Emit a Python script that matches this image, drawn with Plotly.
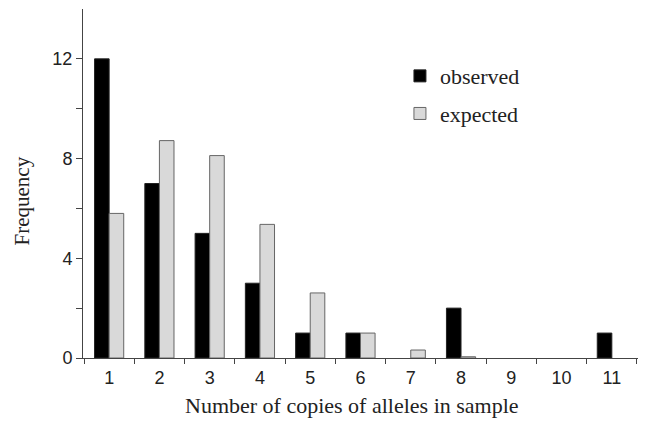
import plotly.graph_objects as go

categories = ["1", "2", "3", "4", "5", "6", "7", "8", "9", "10", "11"]
observed = [12, 7, 5, 3, 1, 1, 0, 2, 0, 0, 1]
expected = [5.8, 8.72, 8.12, 5.36, 2.61, 1.0, 0.32, 0.05, 0, 0, 0]

fig = go.Figure()
fig.add_trace(go.Bar(
    x=categories, y=observed, name="observed", legendgroup="a",
    marker=dict(color="#000000", line=dict(color="#222222",
                width=[1 if v > 0 else 0 for v in observed])),
))
fig.add_trace(go.Bar(
    x=categories, y=expected, name="expected", legendgroup="b",
    marker=dict(color="#d9d9d9", line=dict(color="#666666",
                width=[1 if v > 0 else 0 for v in expected])),
))

fig.update_layout(
    width=646, height=421,
    margin=dict(l=75, r=12, t=1, b=71),
    plot_bgcolor="white", paper_bgcolor="white",
    barmode="group", bargap=0.42, bargroupgap=0,
    showlegend=True,
    legend=dict(
        x=0.567, y=0.868, xanchor="left", yanchor="top",
        font=dict(family="Liberation Serif", size=22, color="#222"),
        traceorder="grouped", tracegroupgap=6,
        bgcolor="rgba(0,0,0,0)",
    ),
    font=dict(family="Liberation Sans", color="#222"),
    annotations=[
        dict(
            text="Frequency", xref="paper", yref="paper",
            x=-0.11, y=0.45, textangle=-90, showarrow=False,
            xanchor="center", yanchor="middle",
            font=dict(family="Liberation Serif", size=21, color="#222"),
        ),
        dict(
            text="Number of copies of alleles in sample", xref="paper", yref="paper",
            x=0.482, y=-0.135, showarrow=False,
            xanchor="center", yanchor="middle",
            font=dict(family="Liberation Serif", size=22, color="#222"),
        ),
    ],
)
fig.update_xaxes(
    type="category", tickson="boundaries", ticks="outside", ticklen=5,
    tickcolor="#444", showline=True, linecolor="#444", linewidth=1,
    showgrid=False, range=[-0.52, 10.6], ticklabelstandoff=3,
    tickfont=dict(family="Liberation Sans", size=18, color="#222"),
)
fig.update_yaxes(
    range=[0, 14], tickvals=[0, 4, 8, 12], ticks="outside", ticklen=6,
    tickcolor="#444", showline=True, linecolor="#444", linewidth=1,
    showgrid=False, zeroline=False,
    minor=dict(tickvals=[2, 6, 10], ticks="outside", ticklen=6, tickcolor="#444"),
    tickfont=dict(family="Liberation Sans", size=18, color="#222"),
)

fig.write_html("out.html")
